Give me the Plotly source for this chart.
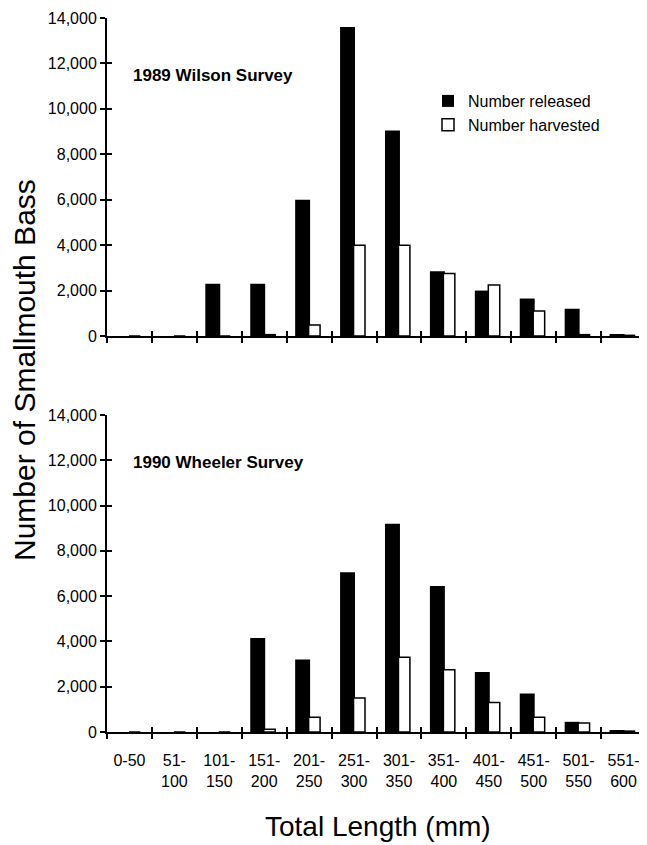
import plotly.graph_objects as go

categories = ["0-50", "51-100", "101-150", "151-200", "201-250", "251-300",
              "301-350", "351-400", "401-450", "451-500", "501-550", "551-600"]
tick_labels = ["0-50", "51-<br>100", "101-<br>150", "151-<br>200", "201-<br>250",
               "251-<br>300", "301-<br>350", "351-<br>400", "401-<br>450",
               "451-<br>500", "501-<br>550", "551-<br>600"]

wilson_released = [0, 0, 2300, 2300, 6000, 13600, 9050, 2850, 2000, 1650, 1200, 80]
wilson_harvested = [0, 0, 0, 60, 480, 4000, 4000, 2750, 2250, 1100, 60, 30]
wheeler_released = [0, 0, 0, 4150, 3200, 7050, 9200, 6450, 2650, 1700, 450, 60]
wheeler_harvested = [0, 0, 0, 120, 650, 1500, 3300, 2750, 1300, 650, 400, 40]

y_ticks = [0, 2000, 4000, 6000, 8000, 10000, 12000, 14000]
boundaries = [i - 0.5 for i in range(len(categories) + 1)]

FONT = "Liberation Sans, Arial, sans-serif"
OFF = 8                      # page body margin in the browser
W, H = 647 - OFF, 845 - OFF  # figure fills the visible window
L, R = 107 - OFF, 1
PW = W - L - R

def py(px):
    """window pixel row -> paper y"""
    return 1 - (px - OFF) / H

def px_(x):
    """window pixel column -> paper x"""
    return (x - OFF - L) / PW

fig = go.Figure()

rel_off, rel_w = -0.311, 0.333
har_off, har_w = -0.011, 0.255

panels = [("x", "y", wilson_released, wilson_harvested, True),
          ("x2", "y2", wheeler_released, wheeler_harvested, False)]
for xa, ya, rel, har, show in panels:
    fig.add_trace(go.Bar(x=categories, y=rel, xaxis=xa, yaxis=ya, name="Number released",
                         marker=dict(color="black", line=dict(color="black", width=0)),
                         offset=rel_off, width=rel_w, showlegend=show, legendrank=1))
    fig.add_trace(go.Bar(x=categories, y=har, xaxis=xa, yaxis=ya, name="Number harvested",
                         marker=dict(color="white", line=dict(color="black", width=1.5)),
                         offset=har_off, width=har_w, showlegend=show, legendrank=2))

# empty helper traces so the overlay axes (inner half of the cross ticks) get drawn
for xa, ya in [("x3", "y"), ("x4", "y2"), ("x", "y3"), ("x2", "y4")]:
    fig.add_trace(go.Scatter(x=[None], y=[None], xaxis=xa, yaxis=ya, mode="markers",
                             showlegend=False, hoverinfo="skip"))

top_dom = [py(336), py(18)]
bot_dom = [py(732), py(415)]

xcommon = dict(type="category", categoryorder="array", categoryarray=categories,
               range=[-0.5, 11.5], showline=True, linecolor="black", linewidth=2,
               ticks="outside", ticklen=5, tickwidth=2, tickcolor="black",
               tickson="boundaries", showgrid=False, zeroline=False, domain=[0, 1],
               automargin=False, ticklabeloverflow="allow")
ycommon = dict(range=[0, 14000], tickvals=y_ticks, tickformat=",", showline=True,
               linecolor="black", linewidth=2, ticks="outside", ticklen=5, tickwidth=2,
               tickcolor="black", showgrid=False, zeroline=False, automargin=False,
               ticklabeloverflow="allow",
               tickfont=dict(family=FONT, size=16, color="black"))
xover = dict(type="linear", range=[-0.5, 11.5], tickvals=boundaries, ticks="inside",
             ticklen=5, tickwidth=2, tickcolor="black", showticklabels=False,
             showgrid=False, zeroline=False, showline=False, automargin=False)
yover = dict(range=[0, 14000], tickvals=y_ticks, ticks="inside", ticklen=5, tickwidth=2,
             tickcolor="black", showticklabels=False, showgrid=False, zeroline=False,
             showline=False, automargin=False)

fig.update_layout(
    xaxis=dict(xcommon, anchor="y", showticklabels=False),
    yaxis=dict(ycommon, anchor="x", domain=top_dom),
    xaxis2=dict(xcommon, anchor="y2", tickvals=categories, ticktext=tick_labels,
                ticklabelstandoff=13,
                tickfont=dict(family=FONT, size=16, color="black")),
    yaxis2=dict(ycommon, anchor="x2", domain=bot_dom),
    xaxis3=dict(xover, overlaying="x", anchor="y"),
    xaxis4=dict(xover, overlaying="x2", anchor="y2"),
    yaxis3=dict(yover, overlaying="y", anchor="x"),
    yaxis4=dict(yover, overlaying="y2", anchor="x2"),
    barmode="overlay",
    width=W, height=H,
    margin=dict(l=L, r=R, t=0, b=0),
    paper_bgcolor="white", plot_bgcolor="white",
    font=dict(family=FONT, color="black"),
    legend=dict(x=px_(428), y=py(84), xanchor="left", yanchor="top",
                bgcolor="rgba(0,0,0,0)", font=dict(family=FONT, size=16, color="black"),
                traceorder="normal", tracegroupgap=0),
    annotations=[
        dict(text="<b>1989 Wilson Survey</b>", xref="paper", yref="paper",
             x=px_(131), y=py(75), xanchor="left", yanchor="middle",
             showarrow=False, font=dict(family=FONT, size=17, color="black")),
        dict(text="<b>1990 Wheeler Survey</b>", xref="paper", yref="paper",
             x=px_(131), y=py(462), xanchor="left", yanchor="middle",
             showarrow=False, font=dict(family=FONT, size=17, color="black")),
        dict(text="Number of Smallmouth Bass", xref="paper", yref="paper",
             x=px_(25), y=py(370), xanchor="center", yanchor="middle",
             textangle=-90, showarrow=False, font=dict(family=FONT, size=30, color="black")),
        dict(text="Total Length (mm)", xref="paper", yref="paper",
             x=px_(378), y=py(826), xanchor="center", yanchor="middle",
             showarrow=False, font=dict(family=FONT, size=28, color="black")),
    ],
)

fig.write_html("out.html")
